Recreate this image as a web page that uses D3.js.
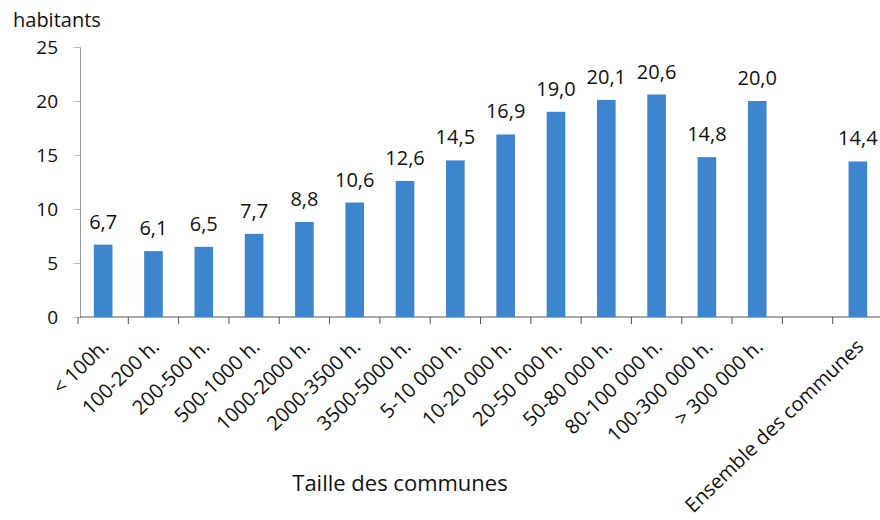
<!DOCTYPE html>
<html>
<head>
<meta charset="utf-8">
<script src="https://cdn.jsdelivr.net/npm/d3@7"></script>
<style>
  body { margin: 0; background: #fff; }
  text { font-family: "Open Sans", sans-serif; fill: #111; }
</style>
</head>
<body>
<svg id="chart" width="880" height="520"></svg>
<script>
// categories (the empty one is the gap before the total)
var categories = ["< 100h.", "100-200 h.", "200-500 h.", "500-1000 h.", "1000-2000 h.",
  "2000-3500 h.", "3500-5000 h.", "5-10 000 h.", "10-20 000 h.", "20-50 000 h.",
  "50-80 000 h.", "80-100 000 h.", "100-300 000 h.", "> 300 000 h.", "", "Ensemble des communes"];
var values = [6.7, 6.1, 6.5, 7.7, 8.8, 10.6, 12.6, 14.5, 16.9, 19.0, 20.1, 20.6, 14.8, 20.0, null, 14.4];
var yTicks = [0, 5, 10, 15, 20, 25];

var svg = d3.select("#chart");
var fr = d3.formatLocale({decimal: ",", thousands: " ", grouping: [3], currency: ["", "€"]});
var fmt = fr.format(".1f");

var x = d3.scaleBand().domain(d3.range(categories.length)).range([78, 883]).paddingInner(0.63).paddingOuter(0.315);
var xb = d3.scaleBand().domain(d3.range(categories.length)).range([78, 883]);
var y = d3.scaleLinear().domain([0, 25]).range([317, 47]);

// y axis
var yAxis = svg.append("g").attr("transform", "translate(80,0)")
  .call(d3.axisLeft(y).tickValues(yTicks).tickSize(6).tickPadding(16));
yAxis.select(".domain").attr("stroke", "#9a9a9a");
yAxis.selectAll(".tick line").attr("stroke", "#bbb");
yAxis.selectAll(".tick text").style("font-size", "19px").attr("fill", "#111");

// x axis line + ticks between bands
svg.append("line").attr("x1", 80).attr("x2", 880).attr("y1", y(0)).attr("y2", y(0))
  .attr("stroke", "#555").attr("stroke-width", 1.2);
svg.selectAll(".xt").data(d3.range(categories.length + 1)).enter().append("line")
  .attr("x1", d => 78 + d * xb.bandwidth()).attr("x2", d => 78 + d * xb.bandwidth())
  .attr("y1", y(0)).attr("y2", y(0) + 7)
  .attr("stroke", "#555");

// bars
var data = values.map((v, i) => ({i: i, v: v})).filter(d => d.v != null);
svg.selectAll(".bar").data(data).enter().append("rect")
  .attr("x", d => x(d.i)).attr("width", x.bandwidth())
  .attr("y", d => y(d.v)).attr("height", d => y(0) - y(d.v))
  .attr("fill", "#3d85cc");

svg.selectAll(".val").data(data).enter().append("text")
  .attr("x", d => x(d.i) + x.bandwidth() / 2).attr("y", d => y(d.v) - 16)
  .attr("text-anchor", "middle").style("font-size", "20px")
  .text(d => fmt(d.v));

// category labels
svg.selectAll(".cat").data(categories).enter().append("text")
  .attr("transform", (d, i) => "translate(" + (xb(i) + xb.bandwidth() / 2 + 7) + ",348) rotate(-44)")
  .attr("text-anchor", "end").style("font-size", "20px")
  .text(d => d);

svg.append("text").attr("x", 13).attr("y", 27).style("font-size", "20px").text("habitants");
svg.append("text").attr("x", 400).attr("y", 491).attr("text-anchor", "middle")
  .style("font-size", "22px").text("Taille des communes");
</script>
</body>
</html>
